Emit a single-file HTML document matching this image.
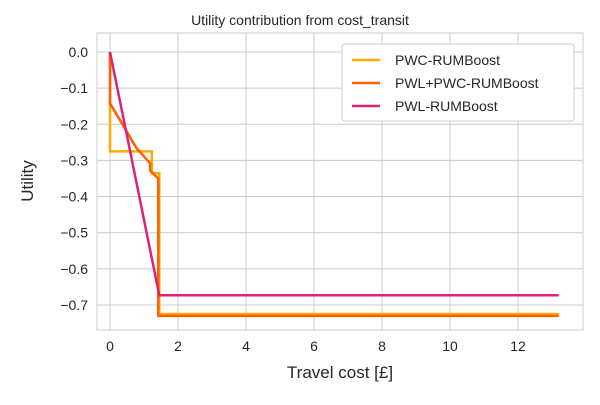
<!DOCTYPE html>
<html><head><meta charset="utf-8"><style>
body{margin:0;background:#fff;}
svg text{font-family:"Liberation Sans","DejaVu Sans",sans-serif;fill:#262626;}
</style></head><body>
<svg width="600" height="400">
<rect x="97" y="33" width="486" height="297" fill="#fff" stroke="#ccc" stroke-width="1"/>
<g id="grid"></g><g id="lines"></g><g id="ticks"></g>
<text x="300" y="25" text-anchor="middle" font-size="14">Utility contribution from cost_transit</text>
<text x="340" y="378" text-anchor="middle" font-size="17">Travel cost [£]</text>
<text transform="translate(33,181) rotate(-90)" text-anchor="middle" font-size="17">Utility</text>
<g>
<rect x="342" y="44" width="232" height="77" fill="#fff" stroke="#ccc" rx="3"/>
<line x1="352" y1="60" x2="380" y2="60" stroke="#ffaa00" stroke-width="2.5"/>
<text x="395" y="65" font-size="14">PWC-RUMBoost</text>
<line x1="352" y1="83" x2="380" y2="83" stroke="#ff5f00" stroke-width="2.5"/>
<text x="395" y="88" font-size="14">PWL+PWC-RUMBoost</text>
<line x1="352" y1="106" x2="380" y2="106" stroke="#dd2277" stroke-width="2.5"/>
<text x="395" y="111" font-size="14">PWL-RUMBoost</text>
</g>
</svg>
<script>
const xTicks=[0,2,4,6,8,10,12];
const yTicks=[0,-0.1,-0.2,-0.3,-0.4,-0.5,-0.6,-0.7];
const pwcX=[0,0,1.23,1.23,1.45,1.45,13.2];
const pwcY=[0,-0.275,-0.275,-0.335,-0.335,-0.725,-0.725];
const pwlpwcX=[0,0,0.78,1.18,1.18,1.42,1.42,13.2];
const pwlpwcY=[0,-0.142,-0.266,-0.308,-0.328,-0.35,-0.73,-0.73];
const pwlX=[0,1.45,13.2];
const pwlY=[0,-0.673,-0.673];
const sx=v=>110+v*34, sy=v=>52-v*361.4;
const NS="http://www.w3.org/2000/svg";
const grid=document.getElementById('grid'),ticks=document.getElementById('ticks'),lines=document.getElementById('lines');
function mk(tag,attrs,parent){const e=document.createElementNS(NS,tag);for(const k in attrs)e.setAttribute(k,attrs[k]);parent.appendChild(e);return e;}
xTicks.forEach(t=>{
 const l=mk('line',{x1:sx(t),x2:sx(t),y1:33,y2:330,stroke:'#ccc','stroke-width':1},grid);
 
 
 const tx=mk('text',{x:sx(t),y:351,'text-anchor':'middle','font-size':14},ticks);
 tx.textContent=t;
 
 
});
yTicks.forEach(t=>{
 const l=mk('line',{x1:97,x2:583,y1:sy(t),y2:sy(t),stroke:'#ccc','stroke-width':1},grid);
 
 
 const tx=mk('text',{x:88,y:sy(t)+5,'text-anchor':'end','font-size':14},ticks);
 tx.textContent=t.toFixed(1).replace('-','\u2212');
 
 
});
function line(xs,ys,color,name){
 const p=mk('polyline',{points:xs.map((x,i)=>sx(x)+','+sy(ys[i])).join(' '),fill:'none',stroke:color,'stroke-width':2.5},lines);
 
 
}
line(pwcX,pwcY,'#ffaa00','line-pwc');
line(pwlpwcX,pwlpwcY,'#ff5f00','line-pwl-pwc');
line(pwlX,pwlY,'#dd2277','line-pwl');
</script>
</body></html>
